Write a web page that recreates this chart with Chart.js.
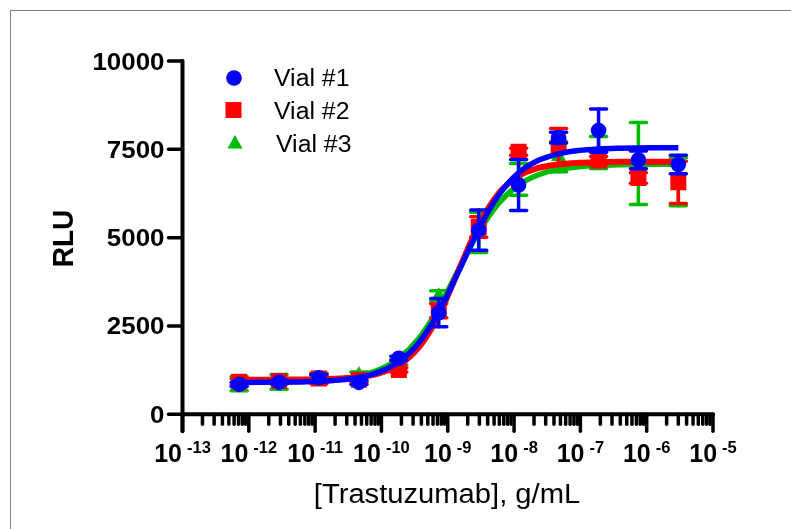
<!DOCTYPE html>
<html>
<head>
<meta charset="utf-8">
<script src="https://cdn.jsdelivr.net/npm/chart.js@4.4.1/dist/chart.umd.min.js"></script>
<style>
    html, body { margin: 0; padding: 0; background: #fff; overflow: hidden; }
    #wrap { position: relative; width: 791px; height: 529px; }
    #frame { position: absolute; left: 10px; top: 10px; right: 0; bottom: 0;
             border-top: 1px solid #7f7f7f; border-left: 1px solid #7f7f7f; }
    #chartBox { position: absolute; left: 0; top: 0; width: 791px; height: 529px; }
</style>
</head>
<body>
<div id="wrap">
    <div id="frame"></div>
    <div id="chartBox"><canvas id="doseChart"></canvas></div>
</div>
<script>
// --- DATA ---
const labels = ['Vial #1', 'Vial #2', 'Vial #3'];

// measured concentrations, g/mL (4-fold dilutions)
const conc = [7.15e-13, 2.86e-12, 1.14e-11, 4.58e-11, 1.83e-10, 7.32e-10,
              2.93e-9, 1.17e-8, 4.69e-8, 1.88e-7, 7.5e-7, 3e-6];

const vial1Mean = [850, 905, 1035, 905, 1585, 2875, 5215, 6490, 7830, 8030, 7200, 7070];
const vial1SD   = [60, 50, 90, 60, 60, 400, 570, 720, 150, 610, 250, 260];
const vial2Mean = [925, 945, 1015, 980, 1255, 2930, 5300, 7430, 7570, 7180, 6690, 6566];
const vial2SD   = [80, 60, 150, 70, 60, 200, 290, 100, 520, 120, 150, 600];
const vial3Mean = [870, 920, 1000, 1120, 1480, 3350, 5150, 6650, 7290, 7410, 7100, 6580];
const vial3SD   = [200, 210, 100, 80, 80, 150, 570, 450, 425, 450, 1160, 680];

// fitted curves, sampled along the drawn lines
const concFit = [7.15e-13, 1.43e-12, 2.86e-12, 5.72e-12, 1.14e-11, 2.29e-11, 4.58e-11,
                 9.15e-11, 1.83e-10, 3.66e-10, 7.32e-10, 1.46e-9, 2.93e-9, 5.86e-9,
                 1.17e-8, 2.34e-8, 4.69e-8, 9.38e-8, 1.88e-7, 3.75e-7, 7.5e-7, 1.5e-6, 3e-6];
const fit1 = [902, 904, 907, 916, 933, 969, 1043, 1194, 1488, 2025, 2891, 4046, 5243,
              6207, 6835, 7189, 7373, 7465, 7509, 7530, 7541, 7545, 7548];
const fit2 = [980, 981, 982, 986, 993, 1012, 1055, 1159, 1394, 1891, 2800, 4079, 5353,
              6251, 6743, 6974, 7076, 7119, 7137, 7145, 7148, 7149, 7150];
const fit3 = [922, 925, 929, 939, 960, 1002, 1088, 1257, 1580, 2145, 3012, 4097, 5157,
              5973, 6490, 6781, 6931, 7008, 7045, 7063, 7072, 7076, 7078];

// axes
const yTicks = [0, 2500, 5000, 7500, 10000];
const xTickExp = [-13, -12, -11, -10, -9, -8, -7, -6, -5];
const xMinor = [2, 3, 4, 5, 6, 7, 8, 9];

const BLUE = '#0000ff';
const RED = '#ff0000';
const GREEN = '#00bb00';
const FONT = '"Liberation Sans", Arial, Helvetica, sans-serif';

document.addEventListener('DOMContentLoaded', () => {
    initChart();
});

const pts = (xs, ys) => xs.map((v, i) => ({ x: v, y: ys[i] }));

// text helper (the exported figure is a bit wider than tall)
const SX = 1.08;
function txt(ctx, s, x, y, font, align, sx) {
    ctx.save();
    ctx.font = font;
    ctx.textAlign = align || 'left';
    ctx.textBaseline = 'alphabetic';
    ctx.translate(x, y);
    ctx.scale(sx || SX, 1);
    ctx.fillText(s, 0, 0);
    ctx.restore();
}

function seg(ctx, x0, y0, x1, y1) {
    ctx.beginPath();
    ctx.moveTo(x0, y0);
    ctx.lineTo(x1, y1);
    ctx.stroke();
}

// --- PRISM STYLE AXES ---
const axesPlugin = {
    id: 'prismAxes',
    beforeDatasetsDraw(chart) {
        const { ctx, scales: { x, y } } = chart;
        const x0 = x.getPixelForValue(Math.pow(10, xTickExp[0]));
        const x1 = x.getPixelForValue(Math.pow(10, xTickExp[xTickExp.length - 1]));
        const y0 = y.getPixelForValue(yTicks[0]);
        const yTop = y.getPixelForValue(yTicks[yTicks.length - 1]);

        ctx.save();
        ctx.strokeStyle = '#000';
        ctx.fillStyle = '#000';
        ctx.lineCap = 'round';

        ctx.lineWidth = 4;
        seg(ctx, x0, y0 + 17, x0, yTop);
        seg(ctx, x0, y0, x1, y0);

        // y ticks + labels
        ctx.lineWidth = 3.5;
        yTicks.forEach(v => {
            const py = y.getPixelForValue(v);
            seg(ctx, x0 - 14, py, x0, py);
            txt(ctx, String(v), x0 - 18, py + 8.5, 'bold 24px ' + FONT, 'right');
        });

        // x ticks: majors at decades, minors at 2..9
        const xs = 1.0;
        xTickExp.forEach((e, i) => {
            const px = x.getPixelForValue(Math.pow(10, e));
            seg(ctx, px, y0, px, y0 + 17);
            if (i < xTickExp.length - 1) {
                xMinor.forEach(m => {
                    const pm = x.getPixelForValue(m * Math.pow(10, e));
                    seg(ctx, pm, y0, pm, y0 + 10);
                });
            }
            // label 10^e
            const fBase = 'bold 25px ' + FONT;
            const fExp = 'bold 16.5px ' + FONT;
            ctx.font = fBase;
            const wb = ctx.measureText('10').width * xs;
            ctx.font = fExp;
            const es = String(e);
            const we = ctx.measureText(es).width * xs;
            const gap = 5;
            const start = px - (wb + gap + we) / 2;
            txt(ctx, '10', start, 462, fBase, 'left', xs);
            txt(ctx, es, start + wb + gap, 453, fExp, 'left', xs);
        });

        // axis titles
        txt(ctx, '[Trastuzumab], g/mL', 447, 503, '27px ' + FONT, 'center');
        ctx.save();
        ctx.translate(72.5, 238.5);
        ctx.rotate(-Math.PI / 2);
        ctx.scale(1, SX);
        ctx.font = 'bold 28px ' + FONT;
        ctx.textAlign = 'center';
        ctx.fillText('RLU', 0, 0);
        ctx.restore();

        ctx.restore();
    }
};

// --- ERROR BARS (drawn under each point set) ---
const errorBarPlugin = {
    id: 'errorBars',
    beforeDatasetDraw(chart, args) {
        const ds = chart.data.datasets[args.index];
        if (!ds.sd) return;
        const { ctx, scales: { x, y } } = chart;
        ctx.save();
        ctx.strokeStyle = ds.borderColor;
        ctx.lineWidth = 3.5;
        ctx.lineCap = 'round';
        ds.data.forEach((p, i) => {
            const px = x.getPixelForValue(p.x);
            const yHi = y.getPixelForValue(p.y + ds.sd[i]);
            const yLo = y.getPixelForValue(p.y - ds.sd[i]);
            seg(ctx, px, yHi, px, yLo);
            seg(ctx, px - 8, yHi, px + 8, yHi);
            seg(ctx, px - 8, yLo, px + 8, yLo);
        });
        ctx.restore();
    }
};

// --- LEGEND (top left inside plot) ---
const legendPlugin = {
    id: 'prismLegend',
    afterDraw(chart) {
        const ctx = chart.ctx;
        ctx.save();
        // circle
        ctx.fillStyle = BLUE;
        ctx.beginPath();
        ctx.arc(234, 78, 7.8, 0, Math.PI * 2);
        ctx.fill();
        // square
        ctx.fillStyle = RED;
        ctx.fillRect(225.5, 102, 16, 16);
        // triangle
        ctx.fillStyle = GREEN;
        ctx.beginPath();
        ctx.moveTo(235, 135);
        ctx.lineTo(242.5, 148.5);
        ctx.lineTo(227.5, 148.5);
        ctx.closePath();
        ctx.fill();

        ctx.fillStyle = '#000';
        txt(ctx, labels[0], 274, 86, '23px ' + FONT, 'left');
        txt(ctx, labels[1], 274, 118.5, '23px ' + FONT, 'left');
        txt(ctx, labels[2], 276, 151.5, '23px ' + FONT, 'left');
        ctx.restore();
    }
};

// --- CHART ---
function initChart() {
    const ctx = document.getElementById('doseChart').getContext('2d');

    const pointSet = (label, means, sd, color, style, radius) => ({
        label: label,
        data: pts(conc, means),
        sd: sd,
        showLine: false,
        pointStyle: style,
        pointRadius: radius,
        backgroundColor: color,
        borderColor: color,
        borderWidth: 0
    });
    const fitSet = (vals, color, width) => ({
        data: pts(concFit, vals),
        showLine: true,
        borderColor: color,
        borderWidth: width,
        pointRadius: 0,
        cubicInterpolationMode: 'monotone',
        fill: false
    });

    // first dataset ends on top
    new Chart(ctx, {
        type: 'scatter',
        data: {
            datasets: [
                pointSet(labels[0], vial1Mean, vial1SD, BLUE, 'circle', 7.8),
                fitSet(fit1, BLUE, 5.5),
                pointSet(labels[1], vial2Mean, vial2SD, RED, 'rect', 11.3),
                fitSet(fit2, RED, 6),
                pointSet(labels[2], vial3Mean, vial3SD, GREEN, 'triangle', 8.7),
                fitSet(fit3, GREEN, 5.5)
            ]
        },
        options: {
            responsive: true,
            maintainAspectRatio: false,
            animation: false,
            events: [],
            layout: { padding: { left: 182.5, right: 78, top: 61, bottom: 114.7 } },
            plugins: { legend: { display: false }, tooltip: { enabled: false } },
            scales: {
                x: { type: 'logarithmic', min: 1e-13, max: 1e-5, display: false },
                y: { type: 'linear', min: 0, max: 10000, display: false }
            }
        },
        plugins: [axesPlugin, errorBarPlugin, legendPlugin]
    });
}
</script>
</body>
</html>
